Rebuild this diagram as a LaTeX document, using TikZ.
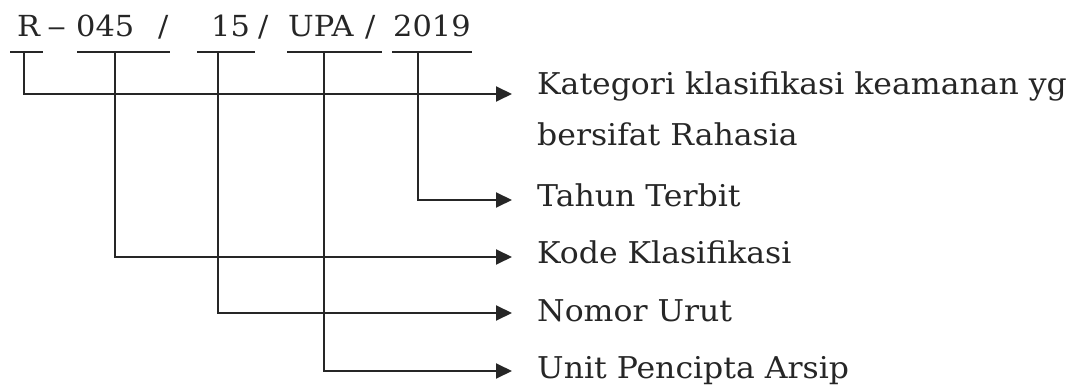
\documentclass[tikz,border=0pt]{standalone}
\usepackage{fontspec}
\setmainfont{DejaVu Serif}[FakeStretch=1.05]
\usetikzlibrary{arrows.meta}
\begin{document}
\begin{tikzpicture}[x=1pt, y=-1pt,
  ink/.style={line width=1.9pt, draw=black!85},
  lead/.style={ink, -{Triangle[length=16pt, width=15pt]}},
  piece/.style={inner sep=0pt, anchor=base west, font=\fontsize{29}{34}\selectfont, text=black!85},
  lab/.style={inner sep=0pt, anchor=base west, font=\fontsize{30}{36}\selectfont, text=black!85}]
  \useasboundingbox (0,0) rectangle (1076,387);

  % the reference number, piece by piece
  \node[piece] (pR)   at (17,37)  {R};
  \node[piece] (pd)   at (47,37)  {\scalebox{1.25}[1]{–}};
  \node[piece] (p045) at (76,37)  {045};
  \node[piece] (ps1)  at (158,37) {/};
  \node[piece] (p15)  at (211,37) {15};
  \node[piece] (ps2)  at (258,37) {/};
  \node[piece] (pUPA) at (288,37) {UPA};
  \node[piece] (ps3)  at (365,37) {/};
  \node[piece] (p2019) at (393,37) {2019};

  % underlines below each part
  \draw[ink] (10,52) -- (43,52);
  \draw[ink] (77,52) -- (170,52);
  \draw[ink] (197,52) -- (255,52);
  \draw[ink] (287,52) -- (382,52);
  \draw[ink] (392,52) -- (472,52);

  % where the leaders leave the underlines
  \coordinate (vR)    at (24,52);
  \coordinate (v045)  at (115,52);
  \coordinate (v15)   at (218,52);
  \coordinate (vUPA)  at (324,52);
  \coordinate (v2019) at (418,52);

  % where the leaders end
  \coordinate (aKat)   at (512,94);
  \coordinate (aTahun) at (512,200);
  \coordinate (aKode)  at (512,257);
  \coordinate (aNomor) at (512,313);
  \coordinate (aUnit)  at (512,371);

  % explanations
  \node[lab] (kat1)  at (537,95)  {Kategori klasifikasi keamanan yg};
  \node[lab] (kat2)  at (537,146) {bersifat Rahasia};
  \node[lab] (tahun) at (537,207) {Tahun Terbit};
  \node[lab] (kode)  at (537,264) {Kode Klasifikasi};
  \node[lab] (nomor) at (537,321) {Nomor Urut};
  \node[lab] (unit)  at (537,378) {Unit Pencipta Arsip};

  % leaders
  \draw[lead] (vR)    |- (aKat);
  \draw[lead] (v2019) |- (aTahun);
  \draw[lead] (v045)  |- (aKode);
  \draw[lead] (v15)   |- (aNomor);
  \draw[lead] (vUPA)  |- (aUnit);
\end{tikzpicture}
\end{document}
